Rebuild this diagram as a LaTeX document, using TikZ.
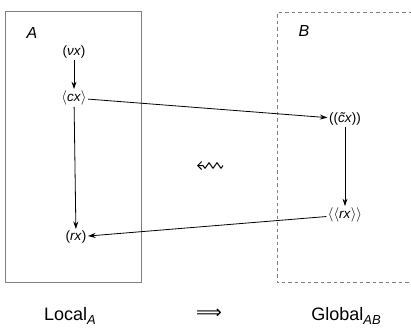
\documentclass[tikz,border=0pt]{standalone}
\usepackage{fontspec}
\setmainfont{Liberation Sans}
\newfontfamily\symfont{DejaVu Sans}
\usetikzlibrary{arrows.meta,decorations.pathmorphing}
\newcommand{\lab}[1]{$\langle$#1$\rangle$}
\newcommand{\sub}[1]{\raisebox{-0.4ex}{\fontsize{13}{14}\selectfont\textit{#1}}}
\tikzset{
  term/.style={inner sep=1.5pt, font=\fontsize{13.5}{15}\selectfont},
  region/.style={draw=black!50, line width=0.6pt},
  regionlabel/.style={font=\fontsize{16}{18}\selectfont\itshape},
  caption/.style={font=\fontsize{18}{20}\selectfont},
  reduce/.style={-{Stealth[length=7.5pt,width=5pt]}, line width=0.8pt}
}
\begin{document}
\begin{tikzpicture}[x=1pt,y=-1pt]
\useasboundingbox (0,0) rectangle (411,333);
\fill[white] (0,0) rectangle (411,333);
% local region A
\draw[region] (5.5,11.7) rectangle (141.7,282.7);
% global region B (open on the right)
\draw[region, dash pattern=on 3.5pt off 3pt] (412,12.7) -- (277,12.7) -- (277,282.7) -- (412,282.7);
\node[regionlabel] (la) at (32,33) {A};
\node[regionlabel] (lb) at (304,31) {B};
% terms
\node[term] (nu)  at (74,52)   {(\textit{νx})};
\node[term] (cx)  at (74,98)   {\lab{\textit{cx}}};
\node[term] (rx)  at (76,237)  {(\textit{rx})};
\node[term] (ctx) at (345,119) {((\textit{\~{c}x}))};
\node[term] (rrx) at (345,215) {\lab{\lab{\textit{rx}}}};
% reductions
\draw[reduce] (nu) -- (cx);
\draw[reduce] (cx) -- (rx);
\draw[reduce] (cx) -- (ctx);
\draw[reduce] (ctx) -- (rrx);
\draw[reduce] (rrx) -- (rx);
% wavy leftwards arrow between the regions
\coordinate (sqr) at (223,165.5);
\coordinate (sql) at (197,165.5);
\draw[line width=1pt, line join=round, -{Straight Barb[length=4pt,width=8pt]},
  decorate, decoration={zigzag, amplitude=2.8pt, segment length=8pt, pre length=0pt, post length=4pt}]
  (sqr) -- (sql);
% captions
\node[caption] (loc) at (70,316) {Local\sub{A}};
\node[caption] (imp) at (209,314) {\symfont ⟹};
\node[caption] (glo) at (346,316) {Global\sub{AB}};
\end{tikzpicture}
\end{document}
